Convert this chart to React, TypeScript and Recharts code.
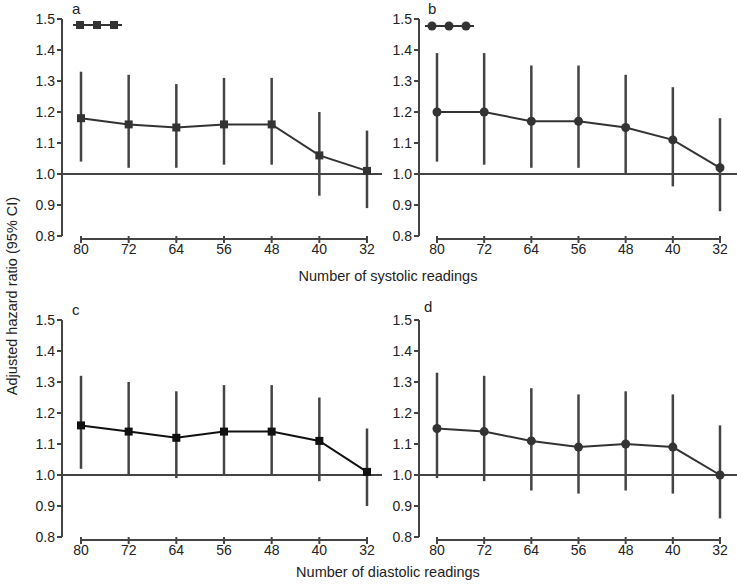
import { LineChart, Line, XAxis, YAxis, ReferenceLine, ErrorBar } from "recharts";

const readings = [80, 72, 64, 56, 48, 40, 32];
const yTicks = [0.8, 0.9, 1.0, 1.1, 1.2, 1.3, 1.4, 1.5];

// a: systolic, squares
const sysSqHr = [1.18, 1.16, 1.15, 1.16, 1.16, 1.06, 1.01];
const sysSqLo = [1.04, 1.02, 1.02, 1.03, 1.03, 0.93, 0.89];
const sysSqHi = [1.33, 1.32, 1.29, 1.31, 1.31, 1.2, 1.14];

// b: systolic, circles
const sysCiHr = [1.2, 1.2, 1.17, 1.17, 1.15, 1.11, 1.02];
const sysCiLo = [1.04, 1.03, 1.02, 1.02, 1.0, 0.96, 0.88];
const sysCiHi = [1.39, 1.39, 1.35, 1.35, 1.32, 1.28, 1.18];

// c: diastolic, squares
const diaSqHr = [1.16, 1.14, 1.12, 1.14, 1.14, 1.11, 1.01];
const diaSqLo = [1.02, 1.0, 0.99, 1.0, 1.0, 0.98, 0.9];
const diaSqHi = [1.32, 1.3, 1.27, 1.29, 1.29, 1.25, 1.15];

// d: diastolic, circles
const diaCiHr = [1.15, 1.14, 1.11, 1.09, 1.1, 1.09, 1.0];
const diaCiLo = [0.99, 0.98, 0.95, 0.94, 0.95, 0.94, 0.86];
const diaCiHi = [1.33, 1.32, 1.28, 1.26, 1.27, 1.26, 1.16];

const FONT = '"Liberation Sans", Arial, sans-serif';
const AXIS = "#444";

const rows = (hr: number[], lo: number[], hi: number[]) =>
  readings.map((n, i) => ({ n, hr: hr[i], err: [hr[i] - lo[i], hi[i] - hr[i]] }));

const squareDot = (color: string) => (p: any) => {
  if (p.cx == null || p.cy == null) return <g key={p.index} />;
  return <rect key={p.index} x={p.cx - 4} y={p.cy - 4} width={8} height={8} fill={color} />;
};

const circleDot = (color: string) => (p: any) => {
  if (p.cx == null || p.cy == null) return <g key={p.index} />;
  return <circle key={p.index} cx={p.cx} cy={p.cy} r={4.5} fill={color} />;
};

type PanelProps = {
  left: number;
  top: number;
  width: number;
  data: { n: number; hr: number; err: number[] }[];
  shape: "square" | "circle";
  color: string;
  padL: number;
  padR: number;
};

const Panel = ({ left, top, width, data, shape, color, padL, padR }: PanelProps) => (
  <div style={{ position: "absolute", left, top }}>
    <LineChart
      width={width}
      height={262}
      data={data}
      margin={{ top: 19, right: 0, left: 0, bottom: 0 }}
    >
      <XAxis
        type="number"
        dataKey="n"
        domain={[32, 80]}
        reversed
        ticks={readings}
        padding={{ left: padL, right: padR }}
        axisLine={false}
        tickLine={{ stroke: AXIS, strokeWidth: 2 }}
        tickSize={7}
        tickMargin={1}
        height={26}
        tick={{ fill: "#222", fontSize: 14 }}
      />
      <YAxis
        domain={[0.8, 1.5]}
        ticks={yTicks}
        allowDataOverflow
        width={62}
        tickSize={5}
        tickMargin={2}
        tickFormatter={(v: number) => v.toFixed(1)}
        axisLine={{ stroke: AXIS, strokeWidth: 2 }}
        tickLine={{ stroke: AXIS, strokeWidth: 2 }}
        tick={{ fill: "#222", fontSize: 14 }}
      />
      <ReferenceLine
        segment={[
          { x: 80, y: 0.79 },
          { x: 32, y: 0.79 },
        ]}
        ifOverflow="visible"
        stroke={AXIS}
        strokeWidth={2}
      />
      <ReferenceLine y={1} stroke={AXIS} strokeWidth={2} />
      <Line
        type="linear"
        dataKey="hr"
        stroke={color}
        strokeWidth={2}
        dot={shape === "square" ? squareDot(color) : circleDot(color)}
        activeDot={false}
        isAnimationActive={false}
      >
        <ErrorBar dataKey="err" direction="y" width={0} stroke="#444" strokeWidth={2.5} />
      </Line>
    </LineChart>
  </div>
);

const LegendGlyph = ({ left, top, shape }: { left: number; top: number; shape: "square" | "circle" }) => (
  <svg style={{ position: "absolute", left, top }} width={54} height={12}>
    <line x1={1} y1={6} x2={50} y2={6} stroke="#333" strokeWidth={2} />
    {[8, 25, 42].map((x) =>
      shape === "square" ? (
        <rect key={x} x={x - 4} y={2} width={8} height={8} fill="#333" />
      ) : (
        <circle key={x} cx={x} cy={6} r={4.5} fill="#333" />
      )
    )}
  </svg>
);

const txt = (left: number, top: number, s: string) => (
  <div style={{ position: "absolute", left, top, fontSize: 15, color: "#222", lineHeight: "15px" }}>{s}</div>
);

const titleStyle = {
  position: "absolute" as const,
  left: 0,
  width: 776,
  textAlign: "center" as const,
  fontSize: 14.5,
  lineHeight: "17px",
  color: "#222",
};

export default function App() {
  return (
    <div
      style={{
        position: "absolute",
        left: 0,
        top: 0,
        width: 737,
        height: 587,
        background: "#fff",
        fontFamily: FONT,
        overflow: "hidden",
      }}
    >
      <Panel left={0} top={0} width={382} data={rows(sysSqHr, sysSqLo, sysSqHi)} shape="square" color="#333" padL={19} padR={15} />
      <Panel left={357} top={0} width={380} data={rows(sysCiHr, sysCiLo, sysCiHi)} shape="circle" color="#333" padL={18} padR={17} />
      <Panel left={0} top={301} width={382} data={rows(diaSqHr, diaSqLo, diaSqHi)} shape="square" color="#111" padL={19} padR={15} />
      <Panel left={357} top={301} width={380} data={rows(diaCiHr, diaCiLo, diaCiHi)} shape="circle" color="#333" padL={18} padR={17} />

      <LegendGlyph left={72} top={19} shape="square" />
      <LegendGlyph left={424} top={20} shape="circle" />

      {txt(72, 1, "a")}
      {txt(428, 1, "b")}
      {txt(72, 302, "c")}
      {txt(424, 299, "d")}

      <div style={{ ...titleStyle, top: 268 }}>Number of systolic readings</div>
      <div style={{ ...titleStyle, top: 564 }}>Number of diastolic readings</div>
      <div
        style={{
          position: "absolute",
          left: 12,
          top: 296,
          transform: "translate(-50%, -50%) rotate(-90deg)",
          whiteSpace: "nowrap",
          fontSize: 14.5,
          color: "#222",
        }}
      >
        Adjusted hazard ratio (95% CI)
      </div>
    </div>
  );
}
